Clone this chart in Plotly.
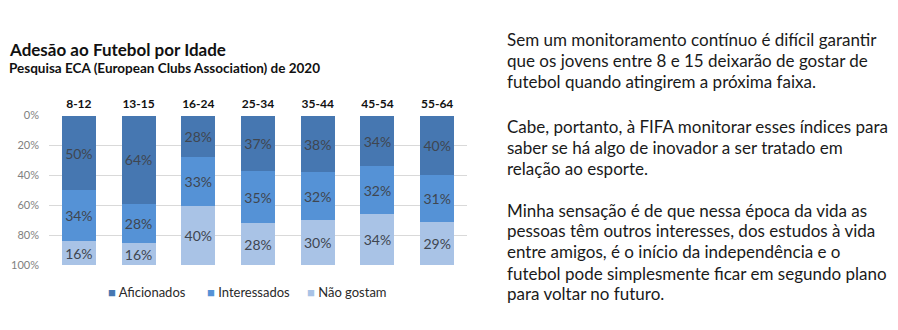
import plotly.graph_objects as go

categories = ["8-12", "13-15", "16-24", "25-34", "35-44", "45-54", "55-64"]
aficionados = [50, 64, 28, 37, 38, 34, 40]
interessados = [34, 28, 33, 35, 32, 32, 31]
nao_gostam = [16, 16, 40, 28, 30, 34, 29]
y_ticks = [0, 20, 40, 60, 80, 100]

series = [
    ("Aficionados", aficionados, "#4677B1"),
    ("Interessados", interessados, "#5592D6"),
    ("Não gostam", nao_gostam, "#A9C3E6"),
]

title = "Adesão ao Futebol por Idade"
subtitle = "Pesquisa ECA (European Clubs Association) de 2020"

text_lines = [
    ("Sem um monitoramento contínuo é difícil garantir", 34),
    ("que os jovens entre 8 e 15 deixarão de gostar de", 56),
    ("futebol quando atingirem a próxima faixa.", 78),
    ("Cabe, portanto, à FIFA monitorar esses índices para", 124),
    ("saber se há algo de inovador a ser tratado em", 146),
    ("relação ao esporte.", 168),
    ("Minha sensação é de que nessa época da vida as", 212),
    ("pessoas têm outros interesses, dos estudos à vida", 233),
    ("entre amigos, é o início da independência e o", 255),
    ("futebol pode simplesmente ficar em segundo plano", 277),
    ("para voltar no futuro.", 298),
]

W, H = 898, 330
FONT = "Lato"

fig = go.Figure()
for name, vals, color in series:
    fig.add_trace(go.Bar(
        x=categories, y=vals, name=name,
        marker=dict(color=color, line=dict(width=0)),
        text=[f"{v}%" for v in vals], texttemplate="%{text}",
        textposition="inside", insidetextanchor="middle", textangle=0,
        insidetextfont=dict(family=FONT, size=14, color="#3F4650"),
        hoverinfo="skip", showlegend=False,
    ))

fig.update_layout(
    width=W, height=H,
    margin=dict(l=0, r=0, t=0, b=0),
    paper_bgcolor="white", plot_bgcolor="white",
    barmode="stack", barnorm="percent", bargap=0.43,
    font=dict(family=FONT),
    uniformtext=dict(minsize=14, mode="show"),
    showlegend=False,
    xaxis=dict(domain=[49 / W, 467 / W], side="top", showline=False, ticks="",
               tickfont=dict(family=FONT, size=12, color="#111111", weight="bold"),
               ticklabelstandoff=4),
    yaxis=dict(domain=[(H - 269) / H, (H - 113) / H], range=[100, 0], tickvals=y_ticks,
               ticktext=[f"{t}%" for t in y_ticks], showgrid=True, gridcolor="#D9D9D9",
               gridwidth=1, zeroline=False, showline=False, ticks="",
               tickfont=dict(family=FONT, size=11, color="#7F7F7F"), ticklabelstandoff=9),
)

# legend as text annotations
legend_x = [106, 205, 305]
for (name, vals, color), lx in zip(series, legend_x):
    fig.add_annotation(text=f"<span style='color:{color}'>■</span> {name}", xref="paper", yref="paper",
                       x=lx / W, y=(H - 297) / H, xanchor="left", yanchor="middle", showarrow=False,
                       font=dict(family=FONT, size=13, color="#2A2A2A"))

fig.add_annotation(text=f"<b>{title}</b>", xref="paper", yref="paper", x=7 / W, y=(H - 44) / H,
                   xanchor="left", yanchor="middle", showarrow=False,
                   font=dict(family=FONT, size=17, color="#111111"))
fig.add_annotation(text=f"<b>{subtitle}</b>", xref="paper", yref="paper", x=7 / W, y=(H - 64) / H,
                   xanchor="left", yanchor="middle", showarrow=False,
                   font=dict(family=FONT, size=13.5, color="#111111"))

for line, ypix in text_lines:
    fig.add_annotation(text=line, xref="paper", yref="paper", x=505 / W, y=(H - ypix) / H,
                       xanchor="left", yanchor="middle", showarrow=False,
                       font=dict(family=FONT, size=17, color="#1A1A1A"))

fig.write_html("out.html")
